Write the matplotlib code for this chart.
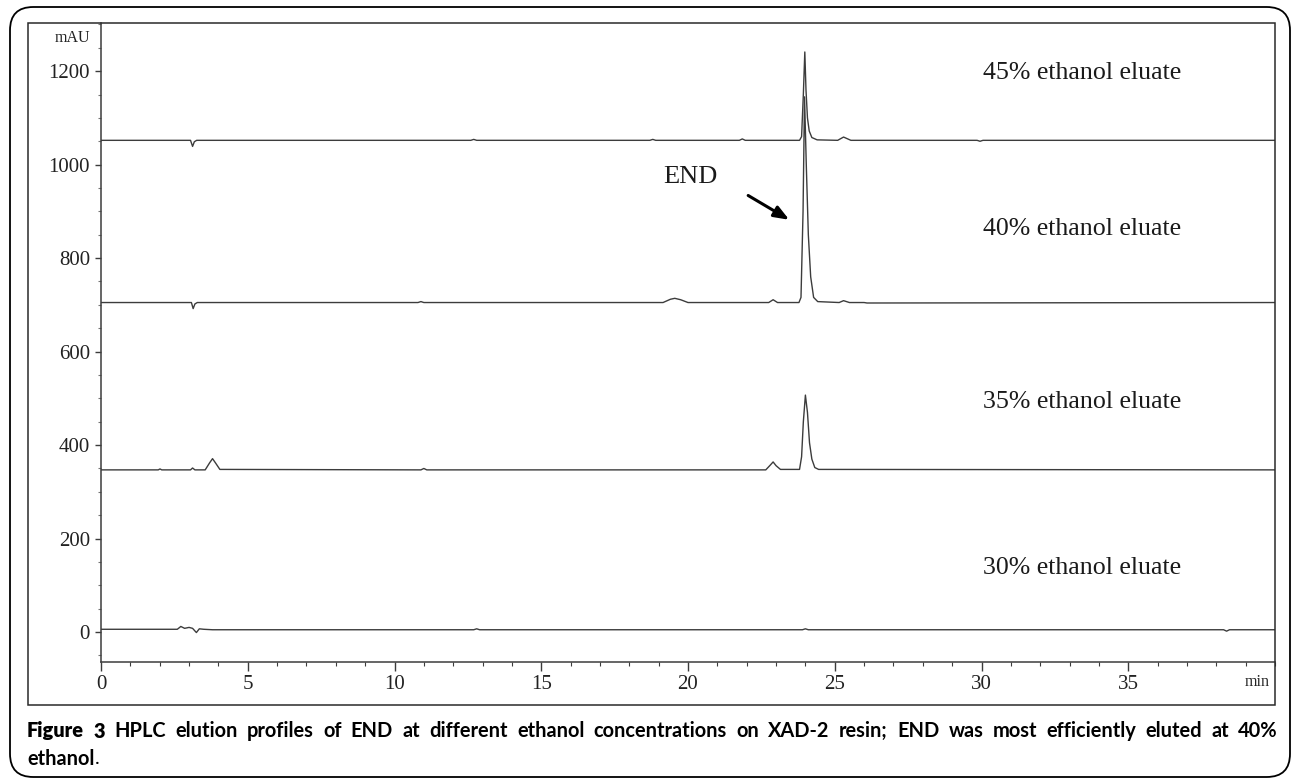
import matplotlib
matplotlib.use("Agg")
import matplotlib.pyplot as plt
from matplotlib.patches import FancyBboxPatch, Rectangle
from matplotlib.ticker import MultipleLocator

# ---------------- data ----------------
t_45 = [0, 3.05, 3.12, 3.18, 3.26, 12.6, 12.7, 12.8, 18.7, 18.8, 18.9,
        21.75, 21.85, 21.95, 23.80, 23.87, 23.93, 23.98, 24.02, 24.07,
        24.13, 24.22, 24.40, 25.10, 25.30, 25.55, 29.85, 29.95, 30.05, 40]
v_45 = [1052, 1052, 1039, 1049, 1052, 1052, 1054, 1052, 1052, 1054, 1052,
        1052, 1055, 1052, 1052, 1060, 1150, 1241, 1160, 1100,
        1072, 1058, 1053, 1052, 1059, 1052, 1052, 1050, 1052, 1052]

t_40 = [0, 3.08, 3.14, 3.20, 3.28, 10.8, 10.9, 11.0, 19.15, 19.4, 19.55,
        19.75, 20.0, 22.75, 22.9, 23.05, 23.78, 23.85, 23.92, 23.97,
        24.03, 24.10, 24.18, 24.28, 24.42, 25.15, 25.30, 25.50, 26.0, 26.1, 40]
v_40 = [705, 705, 692, 702, 705, 705, 707, 705, 705, 712, 714,
        711, 705, 705, 711, 705, 705, 716, 900, 1145,
        1000, 850, 760, 716, 707, 705, 709, 705, 705, 704, 705]

t_35 = [0, 1.95, 2.01, 2.07, 3.05, 3.12, 3.2, 3.55, 3.70, 3.80, 3.90,
        4.05, 10.9, 11.0, 11.1, 22.65, 22.80, 22.90, 23.00, 23.15, 23.80,
        23.87, 23.93, 24.00, 24.07, 24.14, 24.22, 24.32, 24.45, 40]
v_35 = [347, 347, 349, 347, 347, 351, 347, 347, 362, 371, 362,
        348, 347, 350, 347, 347, 357, 364, 356, 348, 348,
        375, 450, 507, 470, 405, 370, 352, 348, 347]

t_30 = [0, 2.60, 2.72, 2.85, 3.00, 3.12, 3.25, 3.35, 3.50, 3.80,
        12.7, 12.8, 12.9, 23.9, 24.0, 24.1, 38.25, 38.35, 38.45, 40]
v_30 = [6, 6, 12, 8, 10, 8, -1, 7, 6, 5,
        5, 7, 5, 5, 7, 5, 5, 2, 5, 5]

traces = [(t_45, v_45), (t_40, v_40), (t_35, v_35), (t_30, v_30)]

series_labels = ["45% ethanol eluate", "40% ethanol eluate",
                 "35% ethanol eluate", "30% ethanol eluate"]
label_y = [1196, 862, 492, 137]

y_ticks = [0, 200, 400, 600, 800, 1000, 1200]
x_ticks = [0, 5, 10, 15, 20, 25, 30, 35]

caption_bold1 = "Figure 3"
caption_rest = ("HPLC elution profiles of END at different ethanol concentrations "
                "on XAD-2 resin; END was most efficiently eluted at 40%")
caption_line2 = "ethanol"

# ---------------- figure ----------------
W, H = 1293, 778
fig = plt.figure(figsize=(W / 100, H / 100), dpi=100)

def px(x0, y0, x1, y1):
    return [x0 / W, 1 - y1 / H, (x1 - x0) / W, (y1 - y0) / H]

# outer rounded border
fig.patches.append(FancyBboxPatch((10 / W, 1 - 777 / H), 1280 / W, 770 / H,
                                  boxstyle="round,pad=0,rounding_size=0.018",
                                  transform=fig.transFigure, fill=False,
                                  edgecolor="black", linewidth=1.3,
                                  mutation_aspect=W / H))
# inner frame
fig.patches.append(Rectangle((28 / W, 1 - 705 / H), (1275 - 28) / W, (705 - 23) / H,
                             transform=fig.transFigure, fill=False,
                             edgecolor="#2a2a2a", linewidth=1.1))

ax = fig.add_axes(px(101, 23, 1275, 662))
serif = ["Liberation Serif", "DejaVu Serif"]
line_col = "#3c3c3c"

for t, v in traces:
    ax.plot(t, v, color=line_col, lw=1.0)

ax.set_xlim(0, 40)
ax.set_ylim(-64, 1303)
for s in ["top", "right"]:
    ax.spines[s].set_visible(False)
for s in ["left", "bottom"]:
    ax.spines[s].set_color("#3c3c3c")
    ax.spines[s].set_linewidth(1.1)

ax.set_yticks(y_ticks)
ax.set_xticks(x_ticks)
ax.xaxis.set_minor_locator(MultipleLocator(1))
ax.yaxis.set_minor_locator(MultipleLocator(50))
ax.tick_params(axis="y", which="major", length=4, width=1, color="#3c3c3c",
               pad=4, labelsize=15, labelcolor="#222222")
ax.tick_params(axis="y", which="minor", length=2.5, width=0.8, color="#777777")
ax.tick_params(axis="x", which="major", length=6.5, width=1, color="#3c3c3c",
               pad=3, labelsize=15, labelcolor="#222222")
ax.tick_params(axis="x", which="minor", length=3, width=0.8, color="#3c3c3c")
for lab in ax.get_xticklabels() + ax.get_yticklabels():
    lab.set_family(serif)

for lab, y in zip(series_labels, label_y):
    ax.text(30.05, y, lab, family=serif, fontsize=18.6, color="#1a1a1a",
            va="center", ha="left")

ax.text(19.15, 973, "END", family=serif, fontsize=19, color="#1a1a1a",
        va="center", ha="left")
ax.annotate("", xy=(23.45, 882), xytext=(22.05, 934),
            arrowprops=dict(arrowstyle="-|>,head_length=0.9,head_width=0.35",
                            color="black", lw=2.2, shrinkA=0, shrinkB=0))

fig.text(90 / W, 1 - 38 / H, "mAU", family=serif, fontsize=11.5,
         color="#222222", ha="right", va="center")
fig.text(1270 / W, 1 - 682 / H, "min", family=serif, fontsize=11.5,
         color="#222222", ha="right", va="center")

# ---------------- caption (justified line 1) ----------------
cap_font = ["Lato", "DejaVu Sans"]
cap_size = 14.4
words = [(caption_bold1.split()[0], "heavy"), (caption_bold1.split()[1], "heavy")] + \
        [(w, "bold") for w in caption_rest.split()]
fig.canvas.draw()
renderer = fig.canvas.get_renderer()
objs = []
widths = []
y1 = 1 - 731 / H
for w, wt in words:
    tx = fig.text(0, y1, w, family=cap_font, fontsize=cap_size, fontweight=wt,
                  color="black", ha="left", va="center")
    bb = tx.get_window_extent(renderer)
    objs.append(tx)
    widths.append(bb.width)
left, right = 27, 1278
gap = (right - left - sum(widths)) / (len(words) - 1)
xpos = left
for tx, wdt in zip(objs, widths):
    tx.set_x(xpos / W)
    xpos += wdt + gap

t2 = fig.text(27 / W, 1 - 759 / H, caption_line2, family=cap_font, fontsize=cap_size,
              fontweight="bold", color="black", ha="left", va="center")
bb2 = t2.get_window_extent(renderer)
fig.text((27 + bb2.width + 1) / W, 1 - 759 / H, ".", family=cap_font,
         fontsize=cap_size, fontweight="normal", color="black",
         ha="left", va="center")

fig.savefig("out.png", dpi=100)
